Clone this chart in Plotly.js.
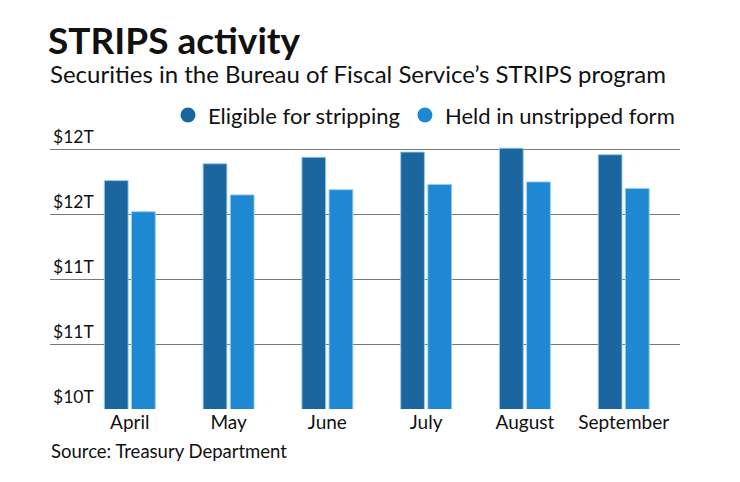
<!DOCTYPE html>
<html>
<head>
<meta charset="utf-8">
<script src="https://cdn.plot.ly/plotly-3.0.1.min.js"></script>
<style>
  html, body { margin: 0; padding: 0; background: #fff; }
  #chart { width: 740px; height: 482px; }
</style>
</head>
<body>
<div id="chart"></div>
<script>
// Monthly STRIPS totals, trillions of dollars
const months = ["April", "May", "June", "July", "August", "September"];
const eligible = [11.76, 11.89, 11.94, 11.98, 12.01, 11.96];
const unstripped = [11.52, 11.65, 11.69, 11.73, 11.75, 11.70];

const seriesNames = ["Eligible for stripping", "Held in unstripped form"];
const tickValues = [10, 10.5, 11, 11.5, 12];
const tickLabels = ["$10T", "$11T", "$11T", "$12T", "$12T"];

const FONT = "Lato, 'DejaVu Sans', sans-serif";
const DARK = "#1b669e";
const LIGHT = "#1e88d3";
const EDGE = "rgba(150,205,240,0.9)";

// plot area geometry (px) used to place the free text
const PLOT_LEFT = 50;
const PLOT_W = 630;
const PLOT_BOTTOM = 409.3;
const PLOT_H = 279.5;
const toPaperX = px => (px - PLOT_LEFT) / PLOT_W;
const toPaperY = py => (PLOT_BOTTOM - py) / PLOT_H;

const traces = [
  {
    type: "bar", x: months, y: eligible, name: seriesNames[0],
    marker: { color: DARK, line: { color: EDGE, width: 1 } },
    showlegend: false, hoverinfo: "x+y"
  },
  {
    type: "bar", x: months, y: unstripped, name: seriesNames[1],
    marker: { color: LIGHT, line: { color: EDGE, width: 1 } },
    showlegend: false, hoverinfo: "x+y"
  },
  // legend entries drawn as round dots
  {
    type: "scatter", mode: "markers", x: [null], y: [null], name: seriesNames[0],
    marker: { color: DARK, size: 15, symbol: "circle" }
  },
  {
    type: "scatter", mode: "markers", x: [null], y: [null], name: seriesNames[1],
    marker: { color: LIGHT, size: 15, symbol: "circle" }
  }
];

const layout = {
  width: 740, height: 482,
  margin: { l: 50, r: 60, t: 130, b: 72.7, pad: 0 },
  paper_bgcolor: "#fff", plot_bgcolor: "#fff",
  font: { family: FONT, color: "#111", size: 17 },
  barmode: "group",
  bargap: 0.45,
  bargroupgap: 0.125,
  title: {
    text: "<b>STRIPS activity</b>",
    font: { family: FONT, size: 37, color: "#111" },
    xref: "container", yref: "container",
    x: 48 / 740, xanchor: "left",
    y: 1 - 41 / 482, yanchor: "middle"
  },
  xaxis: {
    type: "category",
    range: [-0.808, 5.57],
    showgrid: false, zeroline: false, showline: false,
    ticks: "", tickfont: { family: FONT, size: 19, color: "#111" },
    fixedrange: true
  },
  yaxis: {
    range: [10, 12.15],
    tickvals: tickValues, ticktext: tickLabels,
    ticklabelposition: "inside top",
    ticklabeloverflow: "allow",
    showgrid: true, gridcolor: "#777", gridwidth: 1,
    zeroline: false, showline: false, ticks: "",
    tickfont: { family: FONT, size: 17.5, color: "#111" },
    fixedrange: true
  },
  legend: {
    orientation: "h",
    x: toPaperX(168), xanchor: "left", xref: "paper",
    y: toPaperY(115), yanchor: "middle",
    font: { family: FONT, size: 22, color: "#111" },
    bgcolor: "rgba(0,0,0,0)",
    traceorder: "normal"
  },
  annotations: [
    {
      text: "Securities in the Bureau of Fiscal Service\u2019s STRIPS program",
      xref: "paper", yref: "paper",
      x: toPaperX(48), y: toPaperY(73),
      xanchor: "left", yanchor: "middle", showarrow: false,
      font: { family: FONT, size: 24, color: "#111" }
    },
    {
      text: "Source: Treasury Department",
      xref: "paper", yref: "paper",
      x: toPaperX(49), y: toPaperY(451),
      xanchor: "left", yanchor: "middle", showarrow: false,
      font: { family: FONT, size: 18.5, color: "#111" }
    }
  ]
};

Plotly.newPlot("chart", traces, layout, { displayModeBar: false, staticPlot: true });
</script>
</body>
</html>
